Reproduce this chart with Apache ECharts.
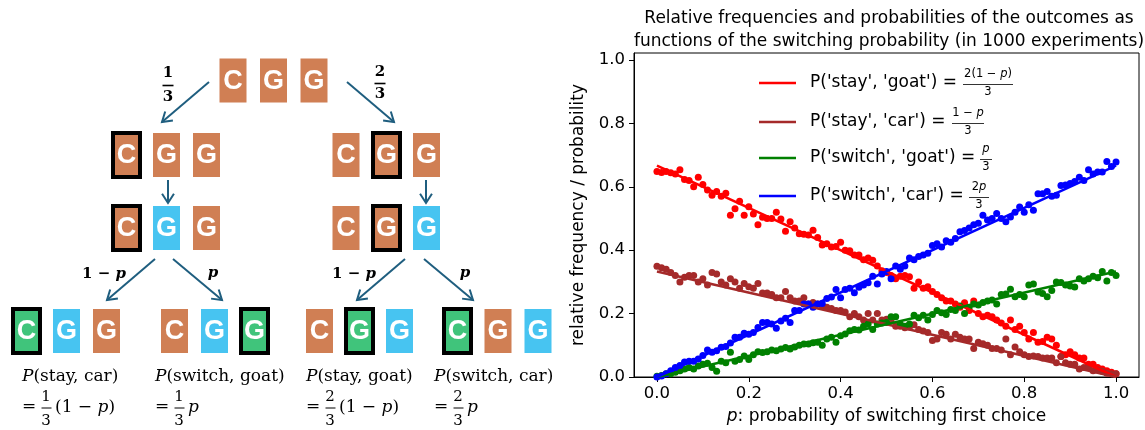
<!DOCTYPE html>
<html>
<head>
<meta charset="utf-8">
<script src="https://cdn.jsdelivr.net/npm/echarts@6/dist/echarts.min.js"></script>
<style>
  html, body { margin: 0; padding: 0; background: #fff; }
  #main { width: 1145px; height: 430px; }
</style>
</head>
<body>
<div id="main"></div>
<script>
// switching probability p of each experiment batch
const pValues = [
  0.00, 0.01, 0.02, 0.03, 0.04, 0.05, 0.06, 0.07, 0.08, 0.09,
  0.10, 0.11, 0.12, 0.13, 0.14, 0.15, 0.16, 0.17, 0.18, 0.19,
  0.20, 0.21, 0.22, 0.23, 0.24, 0.25, 0.26, 0.27, 0.28, 0.29,
  0.30, 0.31, 0.32, 0.33, 0.34, 0.35, 0.36, 0.37, 0.38, 0.39,
  0.40, 0.41, 0.42, 0.43, 0.44, 0.45, 0.46, 0.47, 0.48, 0.49,
  0.50, 0.51, 0.52, 0.53, 0.54, 0.55, 0.56, 0.57, 0.58, 0.59,
  0.60, 0.61, 0.62, 0.63, 0.64, 0.65, 0.66, 0.67, 0.68, 0.69,
  0.70, 0.71, 0.72, 0.73, 0.74, 0.75, 0.76, 0.77, 0.78, 0.79,
  0.80, 0.81, 0.82, 0.83, 0.84, 0.85, 0.86, 0.87, 0.88, 0.89,
  0.90, 0.91, 0.92, 0.93, 0.94, 0.95, 0.96, 0.97, 0.98, 0.99,
  1.00
]
// relative frequencies
const stayGoat = [
  0.648, 0.645, 0.648, 0.644, 0.640, 0.654, 0.623, 0.620, 0.600, 0.630,
  0.607, 0.590, 0.573, 0.585, 0.570, 0.580, 0.510, 0.531, 0.554, 0.510,
  0.537, 0.514, 0.480, 0.504, 0.500, 0.500, 0.520, 0.498, 0.460, 0.490,
  0.470, 0.452, 0.450, 0.448, 0.463, 0.440, 0.416, 0.420, 0.410, 0.412,
  0.425, 0.400, 0.398, 0.385, 0.385, 0.370, 0.375, 0.368, 0.350, 0.335,
  0.330, 0.320, 0.310, 0.318, 0.320, 0.316, 0.280, 0.300, 0.280, 0.285,
  0.270, 0.260, 0.250, 0.240, 0.240, 0.230, 0.220, 0.234, 0.210, 0.240,
  0.200, 0.190, 0.195, 0.190, 0.180, 0.170, 0.160, 0.180, 0.150, 0.160,
  0.140, 0.120, 0.140, 0.110, 0.112, 0.125, 0.120, 0.100, 0.065, 0.070,
  0.080, 0.070, 0.060, 0.060, 0.040, 0.040, 0.030, 0.025, 0.020, 0.015,
  0.010
]
const stayCar = [
  0.349, 0.345, 0.340, 0.330, 0.320, 0.300, 0.315, 0.320, 0.320, 0.300,
  0.310, 0.290, 0.330, 0.325, 0.300, 0.290, 0.310, 0.300, 0.280, 0.295,
  0.285, 0.280, 0.295, 0.265, 0.265, 0.260, 0.250, 0.250, 0.270, 0.250,
  0.240, 0.240, 0.250, 0.230, 0.235, 0.230, 0.225, 0.220, 0.216, 0.210,
  0.210, 0.205, 0.190, 0.200, 0.190, 0.180, 0.200, 0.180, 0.200, 0.180,
  0.182, 0.180, 0.160, 0.160, 0.155, 0.158, 0.165, 0.150, 0.145, 0.140,
  0.115, 0.120, 0.140, 0.135, 0.120, 0.135, 0.125, 0.120, 0.120, 0.090,
  0.110, 0.105, 0.100, 0.090, 0.090, 0.085, 0.120, 0.070, 0.095, 0.080,
  0.070, 0.065, 0.066, 0.065, 0.060, 0.060, 0.060, 0.045, 0.065, 0.045,
  0.040, 0.040, 0.025, 0.030, 0.030, 0.020, 0.022, 0.018, 0.012, 0.010,
  0.010
]
const switchGoat = [
  0.002, 0.005, 0.010, 0.010, 0.015, 0.020, 0.025, 0.030, 0.025, 0.035,
  0.040, 0.043, 0.030, 0.018, 0.050, 0.045, 0.078, 0.050, 0.055, 0.066,
  0.055, 0.070, 0.080, 0.077, 0.080, 0.085, 0.083, 0.088, 0.093, 0.088,
  0.095, 0.100, 0.104, 0.104, 0.108, 0.110, 0.100, 0.120, 0.125, 0.110,
  0.130, 0.136, 0.146, 0.150, 0.148, 0.160, 0.167, 0.150, 0.167, 0.170,
  0.172, 0.190, 0.190, 0.167, 0.160, 0.167, 0.195, 0.187, 0.195, 0.180,
  0.197, 0.210, 0.203, 0.197, 0.213, 0.210, 0.224, 0.200, 0.220, 0.230,
  0.227, 0.235, 0.240, 0.243, 0.230, 0.260, 0.262, 0.277, 0.253, 0.260,
  0.253, 0.290, 0.293, 0.268, 0.263, 0.253, 0.273, 0.300, 0.298, 0.290,
  0.287, 0.284, 0.310, 0.303, 0.310, 0.318, 0.313, 0.333, 0.303, 0.330,
  0.320
]
const switchCar = [
  0.000, 0.003, 0.010, 0.020, 0.030, 0.036, 0.047, 0.050, 0.050, 0.057,
  0.068, 0.085, 0.078, 0.083, 0.094, 0.096, 0.107, 0.125, 0.125, 0.138,
  0.135, 0.140, 0.156, 0.172, 0.172, 0.167, 0.154, 0.177, 0.185, 0.172,
  0.210, 0.210, 0.230, 0.230, 0.220, 0.230, 0.232, 0.248, 0.252, 0.276,
  0.250, 0.276, 0.280, 0.266, 0.283, 0.290, 0.297, 0.318, 0.293, 0.325,
  0.333, 0.310, 0.350, 0.340, 0.350, 0.375, 0.370, 0.380, 0.385, 0.390,
  0.415, 0.420, 0.410, 0.430, 0.425, 0.437, 0.458, 0.462, 0.470, 0.480,
  0.485, 0.510, 0.495, 0.500, 0.516, 0.500, 0.490, 0.505, 0.520, 0.536,
  0.520, 0.543, 0.526, 0.578, 0.578, 0.585, 0.570, 0.573, 0.604, 0.606,
  0.610, 0.617, 0.630, 0.620, 0.654, 0.640, 0.647, 0.647, 0.680, 0.664,
  0.678
]
// theoretical probabilities at p = 0 and p = 1
const lineP = [0, 1]
const stayGoatLine = [0.667, 0]
const stayCarLine = [0.333, 0]
const switchGoatLine = [0, 0.333]
const switchCarLine = [0, 0.667]
const tickValues = [0, 0.2, 0.4, 0.6, 0.8, 1.0]

const chart = echarts.init(document.getElementById('main'), null, { renderer: 'canvas' })

const zip = (xs, ys) => xs.map((x, i) => [x, ys[i]])

// ---- left: tree diagram drawn with graphic elements ----
const BROWN = '#d07f54'
const BLUE = '#47c4f1'
const GREEN = '#40c47b'
const ARROW = '#1f5e7f'
const serif = '"DejaVu Serif"'

function box(cx, cy, letter, fill, picked) {
  return [
    {
      type: 'rect',
      shape: { x: cx - 13.5, y: cy - 22, width: 27, height: 44 },
      style: { fill: fill, stroke: picked ? '#000' : null, lineWidth: picked ? 4 : 0 }
    },
    {
      type: 'text',
      x: cx,
      y: cy + 1,
      style: { text: letter, fill: '#fff', font: 'bold 27px "Liberation Sans"', align: 'center', verticalAlign: 'middle' }
    }
  ]
}

function arrow(x1, y1, x2, y2) {
  const a = Math.atan2(y2 - y1, x2 - x1)
  const len = 11
  const spread = Math.PI / 5.5
  const p1 = [x2 - len * Math.cos(a - spread), y2 - len * Math.sin(a - spread)]
  const p2 = [x2 - len * Math.cos(a + spread), y2 - len * Math.sin(a + spread)]
  return [
    { type: 'line', shape: { x1: x1, y1: y1, x2: x2, y2: y2 }, style: { stroke: ARROW, lineWidth: 2 } },
    { type: 'polyline', shape: { points: [p1, [x2, y2], p2] }, style: { stroke: ARROW, lineWidth: 2, fill: null } }
  ]
}

function label(x, y, text, rich) {
  return {
    type: 'text',
    x: x,
    y: y,
    style: { text: text, fill: '#000', align: 'center', verticalAlign: 'middle', rich: rich || {} }
  }
}

function fracBar(x1, x2, y, w) {
  return { type: 'line', shape: { x1: x1, y1: y, x2: x2, y2: y }, style: { stroke: '#000', lineWidth: w || 1 } }
}

const boldRich = {
  b: { fontFamily: 'DejaVu Serif', fontWeight: 'bold', fontSize: 15 },
  bi: { fontFamily: 'DejaVu Serif', fontWeight: 'bold', fontStyle: 'italic', fontSize: 15 }
}
const mathRich = {
  i: { fontFamily: 'DejaVu Serif', fontStyle: 'italic', fontSize: 17 },
  n: { fontFamily: 'DejaVu Serif', fontSize: 17 }
}

let diagram = []
// top row
diagram = diagram.concat(box(233, 80.5, 'C', BROWN), box(273.5, 80.5, 'G', BROWN), box(314, 80.5, 'G', BROWN))
diagram = diagram.concat(arrow(209, 82, 162, 122), arrow(347, 82, 394, 122))
diagram.push(label(168, 73, '{b|1}', boldRich), fracBar(162.5, 173.5, 85.5, 1.6), label(168, 97, '{b|3}', boldRich))
diagram.push(label(380, 72, '{b|2}', boldRich), fracBar(374.5, 385.5, 83.5, 1.6), label(380, 94, '{b|3}', boldRich))
// second row: first choice
diagram = diagram.concat(box(126.5, 155, 'C', BROWN, true), box(166.5, 155, 'G', BROWN), box(206.5, 155, 'G', BROWN))
diagram = diagram.concat(box(346, 155, 'C', BROWN), box(386.5, 155, 'G', BROWN, true), box(426.5, 155, 'G', BROWN))
diagram = diagram.concat(arrow(168, 180, 168, 203), arrow(426, 180, 426, 203))
// third row: host opens a goat door
diagram = diagram.concat(box(126.5, 228, 'C', BROWN, true), box(166.5, 228, 'G', BLUE), box(206.5, 228, 'G', BROWN))
diagram = diagram.concat(box(346, 228, 'C', BROWN), box(386.5, 228, 'G', BROWN, true), box(426.5, 228, 'G', BLUE))
diagram = diagram.concat(arrow(155, 259, 107, 300), arrow(173, 259, 222, 300))
diagram = diagram.concat(arrow(405, 259, 357, 300), arrow(424, 259, 473, 300))
diagram.push(label(104, 274, '{b|1 − }{bi|p}', boldRich), label(213, 273, '{bi|p}', boldRich))
diagram.push(label(354, 274, '{b|1 − }{bi|p}', boldRich), label(465, 273, '{bi|p}', boldRich))
// bottom row: outcomes
diagram = diagram.concat(box(26.5, 331, 'C', GREEN, true), box(66.5, 331, 'G', BLUE), box(106.5, 331, 'G', BROWN))
diagram = diagram.concat(box(174.5, 331, 'C', BROWN), box(214.5, 331, 'G', BLUE), box(254.5, 331, 'G', GREEN, true))
diagram = diagram.concat(box(319.5, 331, 'C', BROWN), box(359.5, 331, 'G', GREEN, true), box(399.5, 331, 'G', BLUE))
diagram = diagram.concat(box(457.5, 331, 'C', GREEN, true), box(498, 331, 'G', BROWN), box(538, 331, 'G', BLUE))
// outcome formulas
function outcome(x, name, num, tail) {
  const items = []
  items.push({ type: 'text', x: x, y: 377, style: { text: '{i|P}{n|(' + name + ')}', rich: mathRich, align: 'left', verticalAlign: 'middle' } })
  items.push({ type: 'text', x: x, y: 407, style: { text: '{n|=}', rich: mathRich, align: 'left', verticalAlign: 'middle' } })
  items.push({ type: 'text', x: x + 24, y: 397, style: { text: num, font: '15px ' + serif, fill: '#000', align: 'center', verticalAlign: 'middle' } })
  items.push(fracBar(x + 19.5, x + 29.5, 408, 1))
  items.push({ type: 'text', x: x + 24, y: 421, style: { text: '3', font: '15px ' + serif, fill: '#000', align: 'center', verticalAlign: 'middle' } })
  items.push({ type: 'text', x: x + 33, y: 408, style: { text: tail, rich: mathRich, align: 'left', verticalAlign: 'middle' } })
  return items
}
diagram = diagram.concat(outcome(22, 'stay, car', '1', '{n|(1 − }{i|p}{n|)}'))
diagram = diagram.concat(outcome(155, 'switch, goat', '1', '{i|p}'))
diagram = diagram.concat(outcome(306, 'stay, goat', '2', '{n|(1 − }{i|p}{n|)}'))
diagram = diagram.concat(outcome(434, 'switch, car', '2', '{i|p}'))

// ---- legend inside the plot (with mathtext style fractions) ----
const legendRich = {
  i: { fontFamily: 'DejaVu Sans', fontStyle: 'italic', fontSize: 11.5 },
  n: { fontFamily: 'DejaVu Sans', fontSize: 11.5 }
}
function legendItem(y, color, text, num, numX, barX1, barX2) {
  return [
    { type: 'line', shape: { x1: 759, y1: y, x2: 796, y2: y }, style: { stroke: color, lineWidth: 2.5 } },
    { type: 'text', x: 810, y: y, style: { text: text, font: '17px "DejaVu Sans"', fill: '#000', align: 'left', verticalAlign: 'middle' } },
    { type: 'text', x: numX, y: y - 8.5, style: { text: num, rich: legendRich, align: 'center', verticalAlign: 'middle' } },
    fracBar(barX1, barX2, y + 1.5, 0.8),
    { type: 'text', x: numX, y: y + 9.5, style: { text: '{n|3}', rich: legendRich, align: 'center', verticalAlign: 'middle' } }
  ]
}
let legendEls = []
legendEls = legendEls.concat(legendItem(83, '#ff0000', "P('stay', 'goat') =", '{n|2(1 − }{i|p}{n|)}', 988, 963, 1013))
legendEls = legendEls.concat(legendItem(122, '#a52a2a', "P('stay', 'car') =", '{n|1 − }{i|p}', 968, 952, 984))
legendEls = legendEls.concat(legendItem(158, '#008000', "P('switch', 'goat') =", '{i|p}', 986, 980, 992))
legendEls = legendEls.concat(legendItem(196, '#0000ff', "P('switch', 'car') =", '{n|2}{i|p}', 979, 969, 989))

const option = {
  animation: false,
  textStyle: { fontFamily: 'DejaVu Sans' },
  title: {
    text: 'Relative frequencies and probabilities of the outcomes as\nfunctions of the switching probability (in 1000 experiments)',
    left: 884,
    top: 2,
    textAlign: 'center',
    textStyle: { fontSize: 17, fontWeight: 'normal', color: '#000', lineHeight: 23, fontFamily: 'DejaVu Sans' }
  },
  grid: {
    left: 634,
    top: 53,
    width: 505,
    height: 327.5,
    show: true,
    borderColor: '#000',
    borderWidth: 1
  },
  xAxis: {
    type: 'value',
    min: -0.05,
    max: 1.05,
    name: '{i|p}: probability of switching first choice',
    nameLocation: 'middle',
    nameGap: 31,
    nameTextStyle: { fontSize: 17, color: '#000', rich: { i: { fontStyle: 'italic', fontSize: 17 } } },
    axisLine: { show: true, onZero: false, lineStyle: { color: '#000', width: 1 } },
    axisTick: { show: true, inside: false, length: 5, customValues: tickValues, lineStyle: { color: '#000', width: 1 } },
    axisLabel: { customValues: tickValues, margin: 8, fontSize: 16.5, color: '#000', formatter: v => v.toFixed(1) },
    splitLine: { show: false }
  },
  yAxis: {
    type: 'value',
    min: 0,
    max: 1.022,
    name: 'relative frequency / probability',
    nameLocation: 'middle',
    nameGap: 47,
    nameTextStyle: { fontSize: 17, color: '#000' },
    axisLine: { show: true, onZero: false, lineStyle: { color: '#000', width: 1 } },
    axisTick: { show: true, inside: false, length: 5, customValues: tickValues, lineStyle: { color: '#000', width: 1 } },
    axisLabel: { customValues: tickValues, margin: 9, fontSize: 16.5, color: '#000', formatter: v => v.toFixed(1) },
    splitLine: { show: false }
  },
  series: [
    { type: 'scatter', data: zip(pValues, stayGoat), symbolSize: 7, itemStyle: { color: '#ff0000', opacity: 1 } },
    { type: 'line', data: zip(lineP, stayGoatLine), showSymbol: false, lineStyle: { color: '#ff0000', width: 2.5 } },
    { type: 'scatter', data: zip(pValues, stayCar), symbolSize: 7, itemStyle: { color: '#a52a2a', opacity: 1 } },
    { type: 'line', data: zip(lineP, stayCarLine), showSymbol: false, lineStyle: { color: '#a52a2a', width: 2.5 } },
    { type: 'scatter', data: zip(pValues, switchGoat), symbolSize: 7, itemStyle: { color: '#008000', opacity: 1 } },
    { type: 'line', data: zip(lineP, switchGoatLine), showSymbol: false, lineStyle: { color: '#008000', width: 2.5 } },
    { type: 'scatter', data: zip(pValues, switchCar), symbolSize: 7, itemStyle: { color: '#0000ff', opacity: 1 } },
    { type: 'line', data: zip(lineP, switchCarLine), showSymbol: false, lineStyle: { color: '#0000ff', width: 2.5 } }
  ],
  graphic: diagram.concat(legendEls)
}
chart.setOption(option)
</script>
</body>
</html>
